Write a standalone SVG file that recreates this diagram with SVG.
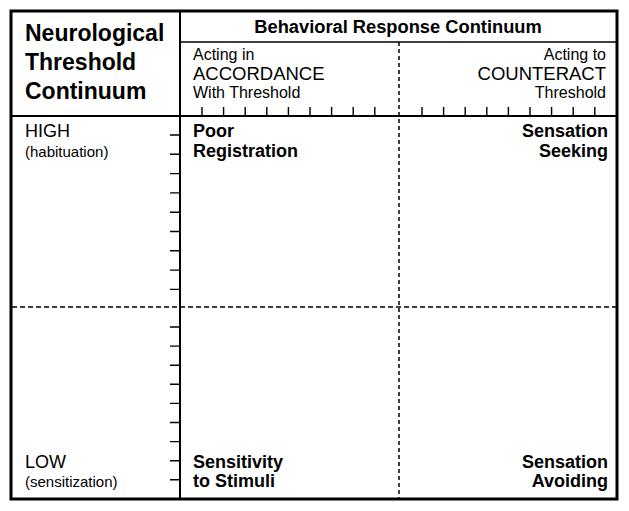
<svg xmlns="http://www.w3.org/2000/svg" width="629" height="511" viewBox="0 0 629 511">
<style>
text{font-family:"Liberation Sans",Arial,sans-serif;fill:#000}
.b{font-weight:bold}
.grid{stroke:#000;fill:none}
.dash{stroke:#000;stroke-width:1.5;fill:none}
.tick{stroke:#000;stroke-width:1.4}
</style>
<rect width="629" height="511" fill="#fff"/>
<g id="grid">
<rect class="grid" x="11" y="11" width="606" height="488" stroke-width="3"/>
<line class="grid" x1="180" y1="11" x2="180" y2="499" stroke-width="2"/>
<line class="grid" x1="180" y1="42" x2="617" y2="42" stroke-width="1.5"/>
<line class="grid" x1="11" y1="116" x2="617" y2="116" stroke-width="2"/>
<line class="dash" x1="399" y1="42" x2="399" y2="498" stroke-dasharray="4 3"/>
<line class="dash" x1="12" y1="307" x2="616" y2="307" stroke-dasharray="5 3"/>
</g>
<g id="top-ticks">
<path class="tick" d="M202 107V116M223.6 107V116M245.2 107V116M266.8 107V116M288.4 107V116M310 107V116M331.6 107V116M353.2 107V116M374.8 107V116M422 107V116M443.6 107V116M465.2 107V116M486.8 107V116M508.4 107V116M530 107V116M551.6 107V116M573.2 107V116M594.8 107V116"/>
</g>
<g id="left-ticks">
<path class="tick" d="M170 135H180M170 154.3H180M170 173.6H180M170 192.9H180M170 212.2H180M170 231.5H180M170 250.8H180M170 270.1H180M170 289.4H180M170 327H180M170 346.1H180M170 365.2H180M170 384.3H180M170 403.4H180M170 422.5H180M170 441.6H180M170 460.7H180M170 479.8H180"/>
</g>
<g id="neuro-header">
<text class="b" font-size="23" x="25" y="41">Neurological</text>
<text class="b" font-size="23" x="25" y="70">Threshold</text>
<text class="b" font-size="23" x="25" y="99">Continuum</text>
</g>
<g id="behavior-header">
<text class="b" font-size="18.3" x="398" y="33" text-anchor="middle">Behavioral Response Continuum</text>
</g>
<g id="accordance">
<text font-size="16" x="193" y="60">Acting in</text>
<text font-size="18.5" x="193" y="80">ACCORDANCE</text>
<text font-size="16" x="193" y="98">With Threshold</text>
</g>
<g id="counteract">
<text font-size="16" x="606" y="60" text-anchor="end">Acting to</text>
<text font-size="18.5" x="606" y="80" text-anchor="end">COUNTERACT</text>
<text font-size="16" x="606" y="98" text-anchor="end">Threshold</text>
</g>
<g id="high">
<text font-size="18" x="25" y="137">HIGH</text>
<text font-size="15" x="25" y="157">(habituation)</text>
</g>
<g id="low">
<text font-size="18" x="25" y="468">LOW</text>
<text font-size="15" x="25" y="487">(sensitization)</text>
</g>
<g id="poor-registration">
<text class="b" font-size="18" x="193" y="137">Poor</text>
<text class="b" font-size="18" x="193" y="157">Registration</text>
</g>
<g id="sensation-seeking">
<text class="b" font-size="18" x="608" y="137" text-anchor="end">Sensation</text>
<text class="b" font-size="18" x="608" y="157" text-anchor="end">Seeking</text>
</g>
<g id="sensitivity">
<text class="b" font-size="18" x="193" y="468">Sensitivity</text>
<text class="b" font-size="18" x="193" y="487">to Stimuli</text>
</g>
<g id="sensation-avoiding">
<text class="b" font-size="18" x="608" y="468" text-anchor="end">Sensation</text>
<text class="b" font-size="18" x="608" y="487" text-anchor="end">Avoiding</text>
</g>
<g id="connectors"/>
</svg>
